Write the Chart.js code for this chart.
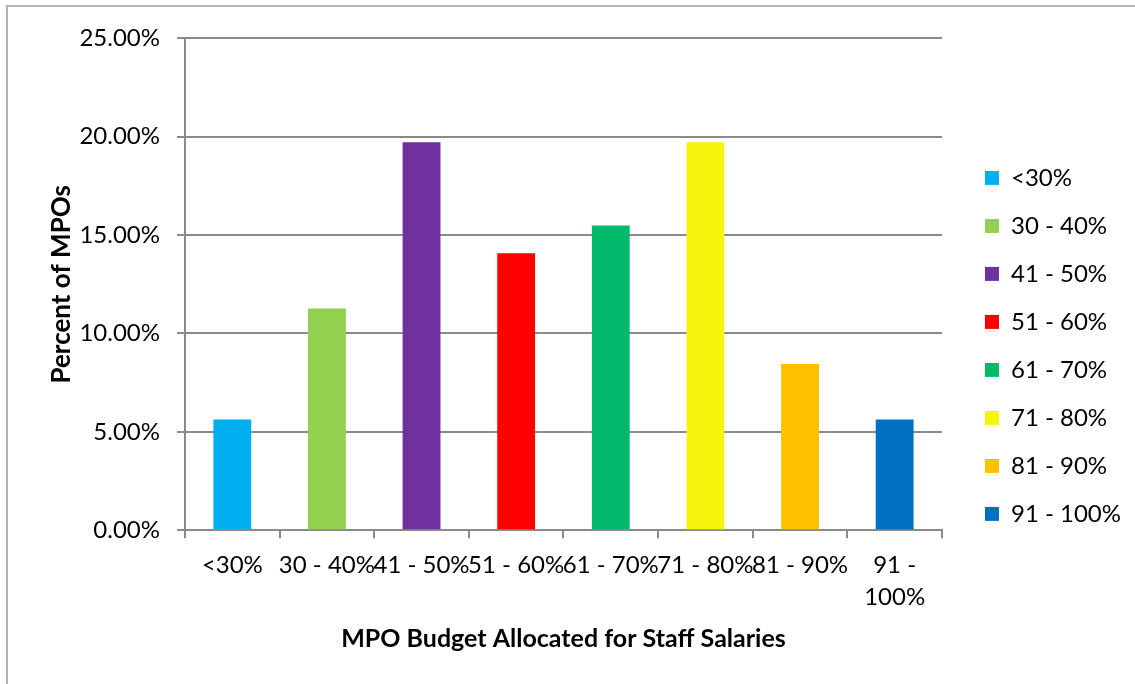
<!DOCTYPE html>
<html>
<head>
<meta charset="utf-8">
<script src="https://cdn.jsdelivr.net/npm/chart.js@4.4.1/dist/chart.umd.min.js"></script>
<style>
  html, body { margin: 0; padding: 0; background: #fff; overflow: hidden; }
  #frame { position: absolute; left: 6px; top: 5px; width: 1140px; height: 679px;
           border-top: 2px solid #b4b4b4; border-left: 2px solid #b4b4b4; }
  #wrap { position: absolute; left: 0; top: 0; width: 1140px; height: 677px; }
</style>
</head>
<body>
<div id="frame"><div id="wrap"><canvas id="chart"></canvas></div></div>
<script>
const categories = ['<30%', '30 - 40%', '41 - 50%', '51 - 60%', '61 - 70%', '71 - 80%', '81 - 90%', '91 - 100%'];
const axisLabels = ['<30%', '30 - 40%', '41 - 50%', '51 - 60%', '61 - 70%', '71 - 80%', '81 - 90%', ['91 -', '100%']];
const shares = [0.0563, 0.1127, 0.1972, 0.1408, 0.1549, 0.1972, 0.0845, 0.0563];
const colors = ['#00B0F0', '#92D050', '#7030A0', '#FF0000', '#00B96B', '#F5F50C', '#FFC000', '#0070C0'];

const font = 'Lato, "DejaVu Sans", sans-serif';
const gridCol = '#8a8a8a';

new Chart(document.getElementById('chart'), {
  type: 'bar',
  data: {
    labels: axisLabels,
    datasets: [{ data: shares, backgroundColor: colors, barPercentage: 0.4, categoryPercentage: 1 }]
  },
  options: {
    responsive: true,
    maintainAspectRatio: false,
    animation: false,
    layout: { padding: { left: 38, right: 17, top: 14, bottom: 30 } },
    plugins: {
      tooltip: { enabled: false },
      legend: {
        position: 'right',
        title: { display: true, text: '', font: { size: 14 }, padding: 0 },
        labels: {
          color: '#000',
          font: { family: font, size: 24 },
          boxWidth: 14, boxHeight: 14, padding: 24,
          generateLabels: chart => categories.map((c, i) => ({
            text: c, fillStyle: colors[i], strokeStyle: colors[i], fontColor: '#000',
            lineWidth: 0, index: i, hidden: false
          }))
        },
        onClick: () => {}
      }
    },
    scales: {
      x: {
        grid: { offset: true, drawOnChartArea: false, color: gridCol, tickLength: 8, lineWidth: 2 },
        border: { color: gridCol, width: 2 },
        ticks: { color: '#000', font: { family: font, size: 24, lineHeight: 1.33 }, maxRotation: 0, autoSkip: false, padding: 11 },
        title: { display: true, text: 'MPO Budget Allocated for Staff Salaries', color: '#000',
                 font: { family: font, size: 25, weight: 'bold' }, padding: 0 }
      },
      y: {
        min: 0, max: 0.25,
        grid: { color: gridCol, tickLength: 8, lineWidth: 2 },
        border: { color: gridCol, width: 2 },
        ticks: { stepSize: 0.05, color: '#000', font: { family: font, size: 24 }, padding: 17,
                 callback: v => (v * 100).toFixed(2) + '%' },
        title: { display: true, text: 'Percent of MPOs', color: '#000',
                 font: { family: font, size: 26, weight: 'bold' }, padding: 0 },
        afterFit: s => { s.width = 139; }
      },
      gap: {
        position: 'right', display: true,
        grid: { display: false }, border: { display: false }, ticks: { display: false },
        afterFit: s => { s.width = 19; }
      }
    }
  }
});
</script>
</body>
</html>
